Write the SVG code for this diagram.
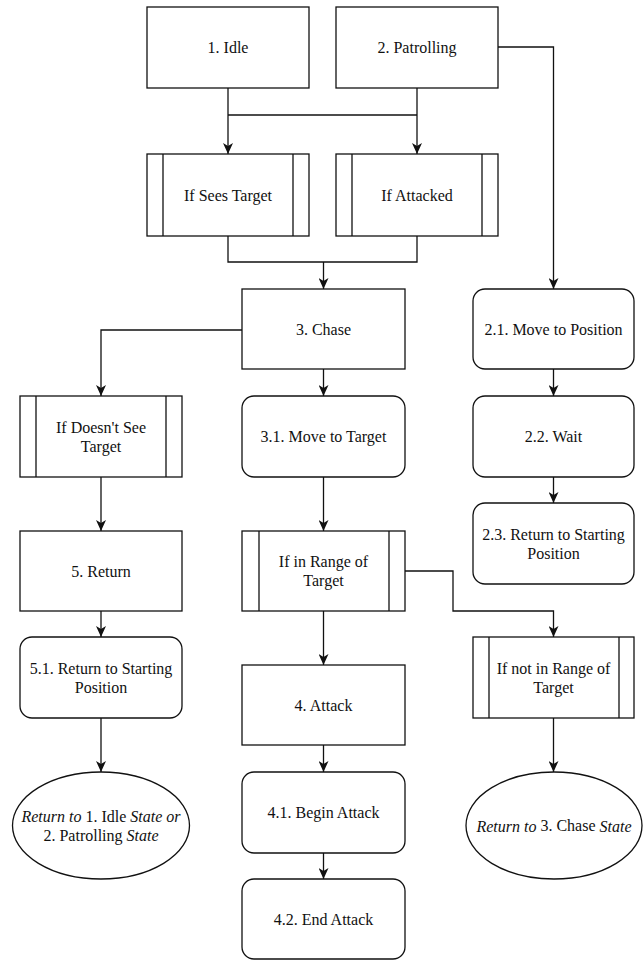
<svg xmlns="http://www.w3.org/2000/svg" width="644" height="960" viewBox="0 0 644 960">
<style>
.b{fill:#fff;stroke:#111;stroke-width:1.3}
.l{fill:none;stroke:#111;stroke-width:1.3}
.c{fill:none;stroke:#111;stroke-width:1.3}
text{font-family:"Liberation Serif","Times New Roman","DejaVu Serif",serif;font-size:16px;fill:#111;text-anchor:middle;dominant-baseline:central}
.i{font-style:italic}
</style>
<defs>
<marker id="a" viewBox="0 0 11 10" refX="11" refY="5" markerWidth="11" markerHeight="10" markerUnits="userSpaceOnUse" orient="auto">
<path d="M0,0 L11,5 L0,10 L3,5 z" fill="#111"/>
</marker>
</defs>
<rect width="644" height="960" fill="#fff"/>
<g id="connectors">
<path class="c" d="M228,88 V154" marker-end="url(#a)"/>
<path class="c" d="M417,88 V154" marker-end="url(#a)"/>
<path class="l" d="M228,115 H417"/>
<path class="l" d="M228,236 V262 H417 V236"/>
<path class="c" d="M323.5,262 V289" marker-end="url(#a)"/>
<path class="c" d="M498,47 H553.5 V289" marker-end="url(#a)"/>
<path class="c" d="M242,330 H101 V396" marker-end="url(#a)"/>
<path class="c" d="M323.5,369 V396" marker-end="url(#a)"/>
<path class="c" d="M553.5,369 V396" marker-end="url(#a)"/>
<path class="c" d="M553.5,477 V503" marker-end="url(#a)"/>
<path class="c" d="M101,477 V531" marker-end="url(#a)"/>
<path class="c" d="M323.5,477 V531" marker-end="url(#a)"/>
<path class="c" d="M101,611 V637" marker-end="url(#a)"/>
<path class="c" d="M323.5,611 V665" marker-end="url(#a)"/>
<path class="c" d="M405,571 H453 V611 H553.5 V637" marker-end="url(#a)"/>
<path class="c" d="M101,718 V772" marker-end="url(#a)"/>
<path class="c" d="M323.5,745 V772" marker-end="url(#a)"/>
<path class="c" d="M553.5,718 V772" marker-end="url(#a)"/>
<path class="c" d="M323.5,853 V879" marker-end="url(#a)"/>
</g>
<g id="n1"><rect class="b" x="147" y="7" width="162" height="81"/><text x="228" y="47.5">1. Idle</text></g>
<g id="n2"><rect class="b" x="336" y="7" width="162" height="81"/><text x="417" y="47.5">2. Patrolling</text></g>
<g id="seesTarget"><rect class="b" x="147" y="154" width="162" height="82"/><path class="l" d="M163,154 V236 M293,154 V236"/><text x="228" y="195">If Sees Target</text></g>
<g id="attacked"><rect class="b" x="336" y="154" width="162" height="82"/><path class="l" d="M352,154 V236 M482,154 V236"/><text x="417" y="195">If Attacked</text></g>
<g id="n3"><rect class="b" x="242" y="289" width="163" height="80"/><text x="323.5" y="329">3. Chase</text></g>
<g id="n21"><rect class="b" x="473" y="289" width="161" height="80" rx="12"/><text x="553.5" y="329">2.1. Move to Position</text></g>
<g id="notSee"><rect class="b" x="20" y="396" width="162" height="81"/><path class="l" d="M36,396 V477 M166,396 V477"/><text x="101" y="427">If Doesn't See</text><text x="101" y="446">Target</text></g>
<g id="n31"><rect class="b" x="242" y="396" width="163" height="81" rx="12"/><text x="323.5" y="436.5">3.1. Move to Target</text></g>
<g id="n22"><rect class="b" x="473" y="396" width="161" height="81" rx="12"/><text x="553.5" y="436.5">2.2. Wait</text></g>
<g id="n23"><rect class="b" x="473" y="503" width="161" height="81" rx="12"/><text x="553.5" y="534">2.3. Return to Starting</text><text x="553.5" y="553">Position</text></g>
<g id="n5"><rect class="b" x="20" y="531" width="162" height="80"/><text x="101" y="571">5. Return</text></g>
<g id="inRange"><rect class="b" x="242" y="531" width="163" height="80"/><path class="l" d="M259,531 V611 M389,531 V611"/><text x="323.5" y="561.5">If in Range of</text><text x="323.5" y="580.5">Target</text></g>
<g id="n51"><rect class="b" x="20" y="637" width="162" height="81" rx="12"/><text x="101" y="668">5.1. Return to Starting</text><text x="101" y="687">Position</text></g>
<g id="notInRange"><rect class="b" x="473" y="637" width="161" height="81"/><path class="l" d="M489,637 V718 M619,637 V718"/><text x="553.5" y="668">If not in Range of</text><text x="553.5" y="687">Target</text></g>
<g id="n4"><rect class="b" x="242" y="665" width="163" height="80"/><text x="323.5" y="705">4. Attack</text></g>
<g id="n41"><rect class="b" x="242" y="772" width="163" height="81" rx="12"/><text x="323.5" y="812.5">4.1. Begin Attack</text></g>
<g id="n42"><rect class="b" x="242" y="879" width="163" height="80" rx="12"/><text x="323.5" y="919">4.2. End Attack</text></g>
<g id="endLeft"><ellipse class="b" cx="101" cy="825.5" rx="88.5" ry="53.5"/><text x="101" y="816"><tspan class="i">Return to</tspan> 1. Idle <tspan class="i">State or</tspan></text><text x="101" y="835">2. Patrolling <tspan class="i">State</tspan></text></g>
<g id="endRight"><ellipse class="b" cx="554" cy="825.5" rx="88" ry="53.5"/><text x="554" y="825.5"><tspan class="i">Return to</tspan> 3. Chase <tspan class="i">State</tspan></text></g>
</svg>
